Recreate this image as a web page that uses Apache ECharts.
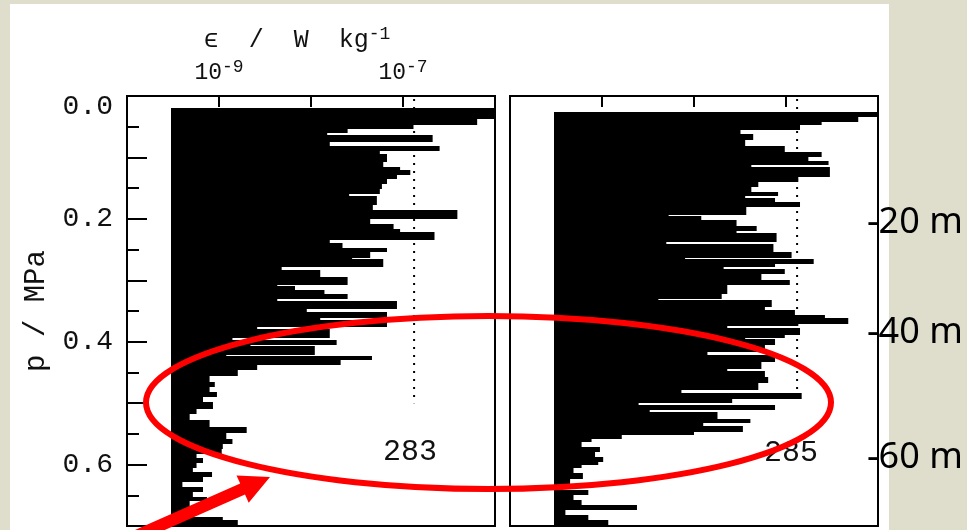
<!DOCTYPE html>
<html><head><meta charset="utf-8">
<script src="https://cdn.jsdelivr.net/npm/echarts@6/dist/echarts.min.js"></script>
<style>html,body{margin:0;padding:0;background:#dfdecd;}#c{width:967px;height:530px;}</style>
</head><body><div id="c"></div>
<script>
// ---- data (pressure bin edges in MPa, dissipation rate in W/kg) ----
const leftPressure = [0.020,0.038,0.047,0.053,0.060,0.064,0.075,0.081,0.089,0.094,0.108,0.116,0.121,0.128,0.135,0.143,0.151,0.160,0.162,0.178,0.186,0.201,0.208,0.216,0.221,0.235,0.240,0.247,0.254,0.264,0.266,0.278,0.283,0.295,0.307,0.310,0.316,0.323,0.330,0.333,0.346,0.352,0.362,0.365,0.376,0.380,0.394,0.397,0.405,0.407,0.421,0.424,0.430,0.438,0.446,0.455,0.465,0.474,0.482,0.490,0.498,0.509,0.517,0.528,0.539,0.549,0.558,0.566,0.574,0.582,0.590,0.598,0.606,0.612,0.620,0.628,0.636,0.644,0.652,0.660,0.669,0.677,0.685,0.690,0.698];
const leftEpsilon = [1e-6,6.4e-7,1.3e-7,2.5e-8,1.5e-8,2.1e-7,1.6e-8,2.5e-7,5.6e-8,6.7e-8,
  6.1e-8,9.3e-8,1.2e-7,8.6e-8,6.7e-8,5.9e-8,5.6e-8,2.6e-8,5.2e-8,4.7e-8,
  3.9e-7,4.4e-8,7.9e-8,9.3e-8,2.2e-7,1.6e-8,2.2e-8,6.7e-8,4.4e-8,2.8e-8,
  6.1e-8,4.8e-9,1.26e-8,2.5e-8,4.3e-9,6.7e-9,1.4e-8,2.5e-8,4.3e-9,8.6e-8,
  9e-9,6.7e-8,1.26e-8,6.7e-8,2.6e-9,1.6e-8,1.4e-9,1.9e-8,2.2e-9,1.1e-8,
  1.2e-9,4.6e-8,2.1e-8,2.6e-9,1.6e-9,7.9e-10,9e-10,7.9e-10,9.5e-10,6.7e-10,
  8.6e-10,5.7e-10,4.8e-10,7.9e-10,2e-9,1.2e-9,1.4e-9,1.1e-9,1.07e-9,5.7e-10,
  6.7e-10,5.7e-10,5.2e-10,8.4e-10,6.7e-10,4e-10,6.7e-10,5.2e-10,7.4e-10,4.8e-10,
  6.7e-10,4.5e-10,1.1e-9,1.6e-9];
const rightPressure = [0.026,0.034,0.043,0.048,0.056,0.062,0.072,0.081,0.091,0.100,0.105,0.112,0.116,0.132,0.140,0.148,0.156,0.163,0.166,0.173,0.181,0.193,0.196,0.202,0.211,0.220,0.223,0.238,0.241,0.254,0.263,0.266,0.273,0.278,0.282,0.289,0.300,0.307,0.322,0.330,0.332,0.343,0.349,0.357,0.362,0.371,0.374,0.378,0.389,0.394,0.396,0.406,0.417,0.421,0.433,0.444,0.447,0.457,0.468,0.479,0.483,0.494,0.499,0.503,0.511,0.515,0.525,0.533,0.537,0.547,0.552,0.558,0.563,0.571,0.579,0.587,0.595,0.601,0.606,0.614,0.623,0.633,0.642,0.650,0.658,0.666,0.674,0.682,0.690,0.698];
const rightEpsilon = [1e-6,6.1e-7,2.44e-7,1.42e-7,3.2e-8,4.4e-8,3.6e-8,9.7e-8,2.44e-7,1.75e-7,
  2.9e-7,4.2e-8,3e-7,1.36e-7,5e-8,4.2e-8,8.2e-8,3.6e-8,7.6e-8,1.42e-7,
  3.7e-8,5.3e-9,1.2e-8,2.9e-8,4.8e-8,2.9e-8,7.9e-8,5e-9,7.3e-8,1.15e-7,
  8e-9,2e-7,7.6e-8,2.1e-8,9.7e-8,5.4e-8,1.1e-7,2.3e-8,2e-8,4.1e-9,
  7e-8,5.9e-8,1.25e-7,2.65e-7,4.75e-7,1.36e-7,2.3e-8,1.42e-7,9.7e-8,3.6e-8,
  7.6e-8,5.9e-8,1.4e-8,7.6e-8,5.4e-8,2.3e-8,5.9e-8,6.4e-8,5e-8,7.3e-9,
  1.48e-7,2.6e-8,2.5e-9,7.6e-8,3.3e-9,1.8e-8,4.1e-8,1.26e-8,3.4e-8,1.0e-8,
  1.64e-9,7.7e-10,6e-10,9.5e-10,8.4e-10,1.03e-9,9.1e-10,6e-10,4.9e-10,6.2e-10,
  4.5e-10,3.4e-10,7.1e-10,4.9e-10,6e-10,2.4e-9,4e-10,7.1e-10,1.17e-9];
const noiseFloor = 3e-10;
const epsLabelExponents = [-9, -7];
const pressureLabels = [0, 0.2, 0.4, 0.6];
const refLineEps = 1.32e-7;
const refLineLeft = [0.005, 0.50];
const refLineRight = [0.005, 0.49];
const profileIds = ['283', '285'];
const depthLabels = ['-20 m', '-40 m', '-60 m'];

const MONO = '"Liberation Mono", "DejaVu Sans Mono", monospace';
const INK = '#111';

function bins(press, eps) { return eps.map((e, i) => [press[i], press[i + 1], e]); }

function renderBars(params, api) {
  const p0 = api.value(0), p1 = api.value(1), e = Math.min(api.value(2), 1e-6);
  const a = api.coord([noiseFloor, p0]);
  const b = api.coord([e, p1]);
  const x0 = Math.round(a[0]);
  const y0 = Math.round(a[1]), y1 = Math.round(b[1]);
  return { type: 'rect', shape: { x: x0, y: y0, width: Math.max(b[0] - x0, 0), height: Math.max(y1 - y0, 1) },
           style: { fill: '#000' } };
}

const grids = [
  { left: 127, top: 96, width: 368, height: 430, show: true, borderColor: '#000', borderWidth: 2, backgroundColor: '#fff' },
  { left: 510, top: 96, width: 368, height: 430, show: true, borderColor: '#000', borderWidth: 2, backgroundColor: '#fff' }
];

function xAxisFor(i) {
  return {
    type: 'log', logBase: 10, min: 1e-10, max: 1e-6, gridIndex: i, position: 'top',
    axisLine: { show: true, lineStyle: { color: '#000', width: 2 } },
    axisTick: { show: true, inside: true, length: 11, lineStyle: { color: '#000', width: 2 } },
    splitLine: { show: false },
    axisLabel: {
      show: i === 0, margin: 8,
      formatter: v => {
        const ex = Math.round(Math.log10(v));
        return epsLabelExponents.includes(ex) ? '{b|10}{s|' + ex + '}' : '';
      },
      rich: {
        b: { fontFamily: MONO, fontSize: 23, color: INK, lineHeight: 30 },
        s: { fontFamily: MONO, fontSize: 18, color: INK, lineHeight: 14, verticalAlign: 'top' }
      }
    },
    name: i === 0 ? '{t|ϵ  /  W  kg}{s|-1}' : '',
    nameLocation: 'middle', nameGap: 30,
    nameTextStyle: {
      padding: [0, 28, 0, 0],
      rich: {
        t: { fontFamily: MONO, fontSize: 25, color: INK, lineHeight: 30 },
        s: { fontFamily: MONO, fontSize: 18, color: INK, lineHeight: 14, verticalAlign: 'top' }
      }
    }
  };
}

function yAxisFor(i) {
  const isLeft = i === 0;
  return {
    type: 'value', inverse: true, min: 0, max: 0.7, interval: 0.1, gridIndex: i,
    axisLine: { show: true, lineStyle: { color: '#000', width: 2 } },
    axisTick: { show: isLeft, inside: true, length: 20, lineStyle: { color: '#000', width: 2 } },
    minorTick: { show: isLeft, splitNumber: 2, length: 12, lineStyle: { color: '#000', width: 2 } },
    splitLine: { show: false },
    axisLabel: {
      show: isLeft, margin: 14, fontFamily: MONO, fontSize: 28, color: INK,
      formatter: v => {
        const hit = pressureLabels.find(t => Math.abs(t - v) < 1e-6);
        if (hit === undefined) return '';
        return hit === 0 ? '{z|0.0}' : hit.toFixed(1);
      },
      rich: { z: { fontFamily: MONO, fontSize: 28, color: INK, padding: [22, 0, 0, 0] } }
    },
    name: isLeft ? 'p / MPa' : '', nameLocation: 'middle', nameGap: 76, nameRotate: 90,
    nameTextStyle: { fontFamily: MONO, fontSize: 29, color: INK }
  };
}

function refLine(i, range) {
  return {
    type: 'line', xAxisIndex: i, yAxisIndex: i, symbol: 'none', silent: true,
    data: [[refLineEps, range[0]], [refLineEps, range[1]]],
    lineStyle: { color: '#000', width: 2, type: [2, 6] }, z: 3
  };
}

const DEPTH_FONT = '"Noto Sans", sans-serif';
const chart = echarts.init(document.getElementById('c'), null, { renderer: 'canvas' });
chart.setOption({
  backgroundColor: '#dfdecd',
  animation: false,
  grid: grids,
  xAxis: [xAxisFor(0), xAxisFor(1)],
  yAxis: [yAxisFor(0), yAxisFor(1)],
  series: [
    { type: 'custom', xAxisIndex: 0, yAxisIndex: 0, data: bins(leftPressure, leftEpsilon),
      encode: { x: 2, y: [0, 1] }, renderItem: renderBars, silent: true, z: 2 },
    { type: 'custom', xAxisIndex: 1, yAxisIndex: 1, data: bins(rightPressure, rightEpsilon),
      encode: { x: 2, y: [0, 1] }, renderItem: renderBars, silent: true, z: 2 },
    refLine(0, refLineLeft),
    refLine(1, refLineRight)
  ],
  graphic: [
    { type: 'rect', shape: { x: 10, y: 4, width: 879, height: 540 }, style: { fill: '#fff' }, z: -100, silent: true },
    { type: 'text', x: 410, y: 452, style: { text: profileIds[0], fontFamily: MONO, fontSize: 30, fill: INK, align: 'center', verticalAlign: 'middle' }, z: 50 },
    { type: 'text', x: 791, y: 453, style: { text: profileIds[1], fontFamily: MONO, fontSize: 30, fill: INK, align: 'center', verticalAlign: 'middle' }, z: 50 },
    { type: 'ellipse', shape: { cx: 488.5, cy: 402.5, rx: 342.5, ry: 86.5 }, style: { fill: 'none', stroke: '#ff0000', lineWidth: 6 }, z: 100, silent: true },
    { type: 'polygon', shape: { points: [[270, 477], [236.5, 475.4], [240.2, 483.6], [121.2, 536.1], [126.0, 547.1], [245.0, 494.6], [248.7, 502.8]] },
      style: { fill: '#ff0000' }, z: 100, silent: true },
    { type: 'text', x: 867, y: 223, style: { text: depthLabels[0], fontFamily: DEPTH_FONT, fontSize: 36, fill: '#000', align: 'left', verticalAlign: 'middle' }, z: 60 },
    { type: 'text', x: 867, y: 333, style: { text: depthLabels[1], fontFamily: DEPTH_FONT, fontSize: 36, fill: '#000', align: 'left', verticalAlign: 'middle' }, z: 60 },
    { type: 'text', x: 867, y: 458, style: { text: depthLabels[2], fontFamily: DEPTH_FONT, fontSize: 36, fill: '#000', align: 'left', verticalAlign: 'middle' }, z: 60 }
  ]
});
</script></body></html>
